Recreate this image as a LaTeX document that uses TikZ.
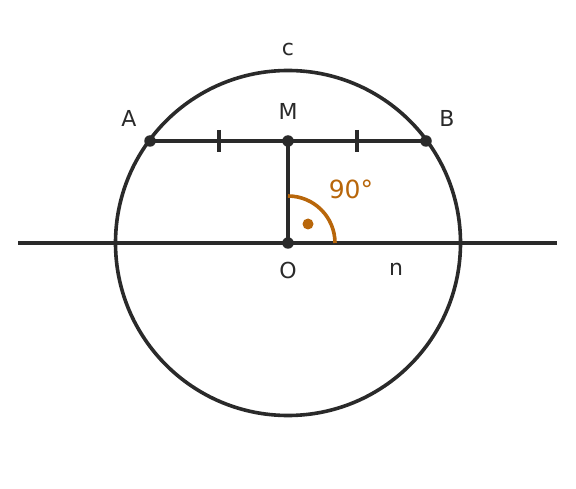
\documentclass[tikz,border=0pt]{standalone}
\usepackage{fontspec}
\setmainfont{DejaVu Sans}
\definecolor{ink}{HTML}{2A2A2A}
\definecolor{ora}{HTML}{B8660A}
\begin{document}
\begin{tikzpicture}[x=1pt,y=-1pt,
  ln/.style={draw=ink,line width=3.6pt},
  pt/.style={circle,fill=ink,inner sep=0pt,minimum size=11.5pt},
  lab/.style={text=ink,font=\fontsize{22}{24}\selectfont,inner sep=0pt}]
\useasboundingbox (0,0) rectangle (576,489);
\coordinate (O) at (288,243);
\coordinate (L) at (18,243);
\coordinate (R) at (557,243);
\coordinate (A) at (150,141);
\coordinate (B) at (426,141);
\coordinate (M) at (288,141);
\draw[ln] (O) circle[radius=172.5];
\draw[ln] (L) -- (R);
\draw[ln] (A) -- (B);
\draw[ln] (M) -- (O);
\coordinate (t1a) at (219,130); \coordinate (t1b) at (219,152);
\coordinate (t2a) at (357,130); \coordinate (t2b) at (357,152);
\draw[ln] (t1a) -- (t1b);
\draw[ln] (t2a) -- (t2b);
\draw[draw=ora,line width=3.6pt] (335,243) arc[start angle=0,end angle=-90,radius=47];
\node[circle,fill=ora,inner sep=0pt,minimum size=11pt] (d) at (308,224) {};
\node[pt] (pO) at (O) {};
\node[pt] (pA) at (A) {};
\node[pt] (pB) at (B) {};
\node[pt] (pM) at (M) {};
\node[lab] (lc) at (288,49) {c};
\node[lab] (lA) at (129,118) {A};
\node[lab] (lM) at (288,111) {M};
\node[lab] (lB) at (447,118) {B};
\node[lab] (lO) at (288,270) {O};
\node[lab] (ln) at (396,269) {n};
\node[text=ora,font=\fontsize{25}{27}\selectfont,inner sep=0pt] (l90) at (351,189) {90°};
\end{tikzpicture}
\end{document}
